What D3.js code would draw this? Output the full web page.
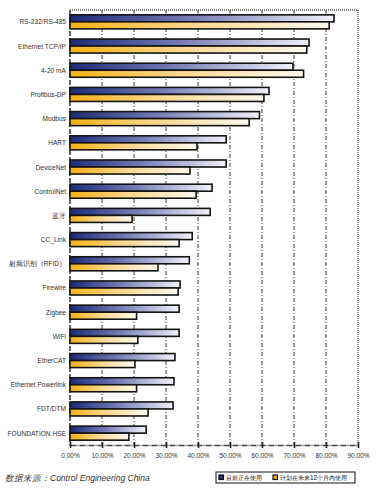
<!DOCTYPE html>
<html><head><meta charset="utf-8">
<script src="https://cdn.jsdelivr.net/npm/d3@7"></script>
<style>body{margin:0;background:#fff}svg{display:block}</style>
</head><body><div id="c"></div>
<script>
const categories = ["RS-232/RS-485","Ethernet TCP/IP","4-20 mA","Profibus-DP","Modbus","HART","DeviceNet","ControlNet","蓝牙","CC_Link","射频识别（RFID）","Firewire","Zigbee","WiFi","EtherCAT","Ethernet Powerlink","FDT/DTM","FOUNDATION HSE"];
const currentUse = [82.5,74.7,69.7,62.2,59.2,48.8,48.8,44.4,43.8,38.2,37.3,34.4,34.1,34.1,32.8,32.5,32.2,23.8];
const plannedUse = [81.0,74.0,73.0,60.6,56.0,39.7,37.5,39.4,19.4,34.1,27.5,33.8,20.8,21.2,20.3,20.8,24.4,18.4];
const seriesNames = ["目前正在使用","计划在未来12个月内使用"];
const tickValues = [0,10,20,30,40,50,60,70,80,90];
const tickLabels = ["0,00%","10,00%","20,00%","30,00%","40,00%","50,00%","60,00%","70,00%","80,00%","90,00%"];
const sourceText = "数据来源：Control Engineering China";

const W = 377, H = 493;
const L = 70, R = 358, T = 10, B = 445;
const svg = d3.select("#c").append("svg").attr("width", W).attr("height", H)
  .style("font-family", "'Liberation Sans', Arial, sans-serif");

const defs = svg.append("defs");
function grad(id, stops){
  const g = defs.append("linearGradient").attr("id", id).attr("x1","0").attr("x2","1").attr("y1","0").attr("y2","0");
  stops.forEach(s => g.append("stop").attr("offset", s[0]).attr("stop-color", s[1]));
}
grad("gBlue", [["0%","#1b2a78"],["45%","#7479b4"],["100%","#f2f2f8"]]);
grad("gOrange", [["0%","#f6b214"],["45%","#fbd68a"],["100%","#fff9f0"]]);

const x = d3.scaleLinear().domain([0, 90]).range([L, R]);
const y = d3.scaleBand().domain(categories).range([T, B]).paddingInner(0.42).paddingOuter(0.2);
const sub = d3.scaleBand().domain([0,1]).range([0, y.bandwidth()]);

// grid lines
svg.append("g").selectAll("line").data(tickValues.filter(v => v > 0 && v < 90)).join("line")
  .attr("x1", d => x(d)).attr("x2", d => x(d)).attr("y1", T).attr("y2", B)
  .attr("stroke", "#6a6a6a").attr("stroke-width", 1.3).attr("stroke-dasharray", "4,2,1,2");
// top border
svg.append("line").attr("x1", L).attr("x2", R).attr("y1", T).attr("y2", T)
  .attr("stroke", "#555").attr("stroke-width", 1.3).attr("stroke-dasharray", "1,1");
// right border
svg.append("line").attr("x1", R).attr("x2", R).attr("y1", T).attr("y2", B)
  .attr("stroke", "#555").attr("stroke-width", 1.3).attr("stroke-dasharray", "1,1");
// left axis line
svg.append("line").attr("x1", L).attr("x2", L).attr("y1", T).attr("y2", B)
  .attr("stroke", "#333").attr("stroke-width", 1.5).attr("stroke-dasharray", "5,2");

// bars
const rows = categories.map((c, i) => ({c, v: [currentUse[i], plannedUse[i]]}));
const g = svg.append("g").selectAll("g").data(rows).join("g")
  .attr("transform", d => `translate(0,${y(d.c)})`);
g.selectAll("rect").data(d => d.v.map((v, k) => ({v, k}))).join("rect")
  .attr("x", x(0)).attr("y", d => sub(d.k))
  .attr("width", d => x(d.v) - x(0)).attr("height", sub.bandwidth())
  .attr("fill", d => d.k === 0 ? "url(#gBlue)" : "url(#gOrange)")
  .attr("stroke", "#141414").attr("stroke-width", 1.6);

// category labels
svg.append("g").selectAll("text").data(categories).join("text")
  .attr("x", L - 4).attr("y", d => y(d) + y.bandwidth() / 2)
  .attr("text-anchor", "end").attr("dominant-baseline", "central")
  .attr("font-size", 6.6).attr("fill", "#333").text(d => d);

// bottom axis
const ax = svg.append("g").attr("transform", `translate(0,${B})`)
  .call(d3.axisBottom(x).tickValues(tickValues).tickFormat((d, i) => tickLabels[i]).tickSize(3).tickSizeOuter(0));
ax.select(".domain").attr("stroke", "#444").attr("stroke-width", 1.5).attr("stroke-dasharray", "6,1,1,1");
ax.selectAll(".tick line").attr("stroke", "#222").attr("stroke-width", 1.6).attr("y1", -3).attr("y2", 3);
ax.selectAll(".tick text").attr("font-size", 6.5).attr("fill", "#333").attr("y", 8)
  .style("font-family", "'Liberation Sans', Arial, sans-serif");

// source
svg.append("text").attr("x", 5).attr("y", 481).attr("font-size", 8.5).attr("font-style", "italic")
  .attr("fill", "#333").text(sourceText);

// legend
const lg = svg.append("g");
lg.append("rect").attr("x", 216).attr("y", 472).attr("width", 139).attr("height", 11)
  .attr("fill", "#fff").attr("stroke", "#111").attr("stroke-width", 1);
const legX = [219, 273];
seriesNames.forEach((s, k) => {
  lg.append("rect").attr("x", legX[k]).attr("y", 475).attr("width", 4.5).attr("height", 4.5)
    .attr("fill", k === 0 ? "#1b2a78" : "#f6b214").attr("stroke", "#111").attr("stroke-width", 1.2);
  lg.append("text").attr("x", legX[k] + 7).attr("y", 477.5).attr("dominant-baseline", "central")
    .attr("font-size", 6.3).attr("fill", "#111").text(s);
});
</script></body></html>
